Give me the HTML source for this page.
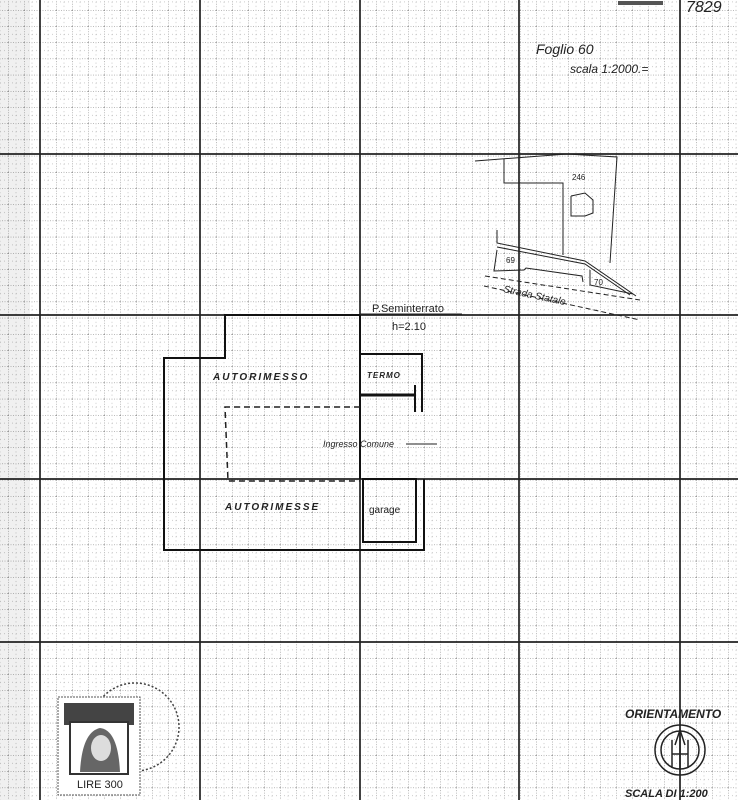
<!DOCTYPE html>
<html><head><meta charset="utf-8">
<style>
html,body{margin:0;padding:0;background:#fff;}
svg{display:block;}
text{font-family:"Liberation Sans",sans-serif;fill:#222;}
</style></head>
<body>
<svg width="738" height="800" viewBox="0 0 738 800" xmlns="http://www.w3.org/2000/svg">
<defs>
<pattern id="minor" x="8" y="10" width="16" height="16.2" patternUnits="userSpaceOnUse">
<line x1="0" y1="0" x2="0" y2="16.2" stroke="#777" stroke-width="1" stroke-dasharray="1,1.5"/>
<line x1="0" y1="0" x2="16" y2="0" stroke="#777" stroke-width="1" stroke-dasharray="1,1.5"/>
<line x1="8" y1="0" x2="8" y2="16.2" stroke="#bbb" stroke-width="0.8" stroke-dasharray="1,3"/>
<line x1="0" y1="8.1" x2="16" y2="8.1" stroke="#bbb" stroke-width="0.8" stroke-dasharray="1,3"/>
</pattern>
</defs>
<rect width="738" height="800" fill="#fff"/>
<rect width="738" height="800" fill="url(#minor)"/>
<rect x="0" y="0" width="30" height="800" fill="#000" opacity="0.06"/>
<!-- major grid -->
<g stroke="#222" stroke-width="1.7">
<line x1="40" y1="0" x2="40" y2="800"/>
<line x1="200" y1="0" x2="200" y2="800"/>
<line x1="360" y1="0" x2="360" y2="800"/>
<line x1="519" y1="0" x2="519" y2="800"/>
<line x1="680" y1="0" x2="680" y2="800"/>
<line x1="0" y1="154" x2="738" y2="154"/>
<line x1="0" y1="315" x2="738" y2="315"/>
<line x1="0" y1="479" x2="738" y2="479"/>
<line x1="0" y1="642" x2="738" y2="642"/>
</g>
<!-- header -->
<rect x="618" y="1" width="45" height="4" fill="#555"/>
<text x="686" y="12" font-size="16" font-style="italic" fill="#333">7829</text>
<text x="536" y="54" font-size="14" font-family="Liberation Serif" font-style="italic">Foglio 60</text>
<text x="570" y="73" font-size="12" font-style="italic">scala 1:2000.=</text>
<!-- location map -->
<g fill="none" stroke="#222" stroke-width="1">
<polyline points="475,161 567,154 617,157 610,263"/>
<polyline points="504,159 504,183 563,183 563,255"/>
<polyline points="571,196 585,193 593,200 593,213 585,216 571,216 571,196"/>
<polyline points="497,230 497,243 585,261 636,296"/>
<polyline points="497,247 585,264 630,295"/>
<polyline points="497,250 494,271 524,270 526,268 582,276 583,282"/>
<polyline points="590,270 590,285 633,294"/>
<line x1="485" y1="276" x2="640" y2="300" stroke-dasharray="5,3"/>
<line x1="484" y1="286" x2="640" y2="320" stroke-dasharray="5,3"/>
</g>
<text x="572" y="180" font-size="8">246</text>
<text x="506" y="263" font-size="8">69</text>
<text x="594" y="285" font-size="8">70</text>
<text x="503" y="292" font-size="10" font-style="italic" transform="rotate(12 503 292)">Strada Statale</text>
<!-- floor plan -->
<g fill="none" stroke="#111" stroke-width="2">
<polyline points="360,315 225,315 225,358 164,358 164,550 424,550 424,479"/>
<polyline points="360,354 422,354 422,412"/>
<line x1="360" y1="315" x2="360" y2="479"/>
<rect x="363" y="479" width="53" height="63"/>
<line x1="415" y1="385" x2="415" y2="412"/>
</g>
<line x1="360" y1="395" x2="416" y2="395" stroke="#111" stroke-width="3"/>
<polyline points="360,407 225,407 228,481 360,481" fill="none" stroke="#222" stroke-width="1.5" stroke-dasharray="6,4"/>
<line x1="360" y1="314" x2="462" y2="314" stroke="#222" stroke-width="1"/>
<line x1="406" y1="444" x2="437" y2="444" stroke="#222" stroke-width="1"/>
<text x="372" y="312" font-size="11">P.Seminterrato</text>
<text x="392" y="330" font-size="11">h=2.10</text>
<text x="213" y="380" font-size="10" font-style="italic" font-weight="bold" letter-spacing="2">AUTORIMESSO</text>
<text x="367" y="378" font-size="8" font-style="italic" font-weight="bold" letter-spacing="1">TERMO</text>
<text x="323" y="447" font-size="9" font-style="italic">Ingresso Comune</text>
<text x="225" y="510" font-size="10" font-style="italic" font-weight="bold" letter-spacing="2">AUTORIMESSE</text>
<text x="369" y="513" font-size="10">garage</text>
<!-- stamp -->
<circle cx="135" cy="727" r="44" fill="none" stroke="#444" stroke-width="1.5" stroke-dasharray="2,2"/>
<rect x="58" y="697" width="82" height="98" fill="#fff" stroke="#555" stroke-width="1" stroke-dasharray="2,1"/>
<rect x="64" y="703" width="70" height="22" fill="#444"/>
<rect x="70" y="722" width="58" height="52" fill="#fff" stroke="#333" stroke-width="2"/>
<path d="M80,772 Q82,732 100,728 Q118,730 120,772 Z" fill="#666"/>
<ellipse cx="101" cy="748" rx="10" ry="13" fill="#ddd"/>
<text x="77" y="788" font-size="11" font-family="Liberation Serif">LIRE 300</text>
<!-- orientation -->
<text x="625" y="718" font-size="12" font-weight="bold" font-style="italic" font-family="Liberation Serif">ORIENTAMENTO</text>
<circle cx="680" cy="750" r="25" fill="none" stroke="#222" stroke-width="1.5"/>
<circle cx="680" cy="750" r="19" fill="none" stroke="#222" stroke-width="1.5"/>
<g stroke="#222" stroke-width="1.5" fill="none">
<line x1="672" y1="740" x2="672" y2="768"/>
<line x1="688" y1="740" x2="688" y2="768"/>
<line x1="672" y1="754" x2="688" y2="754"/>
<polyline points="675,745 680,730 685,745"/>
<line x1="680" y1="730" x2="680" y2="770"/>
</g>
<text x="625" y="797" font-size="11" font-weight="bold" font-style="italic" font-family="Liberation Serif">SCALA DI 1:200</text>
</svg>
</body></html>
